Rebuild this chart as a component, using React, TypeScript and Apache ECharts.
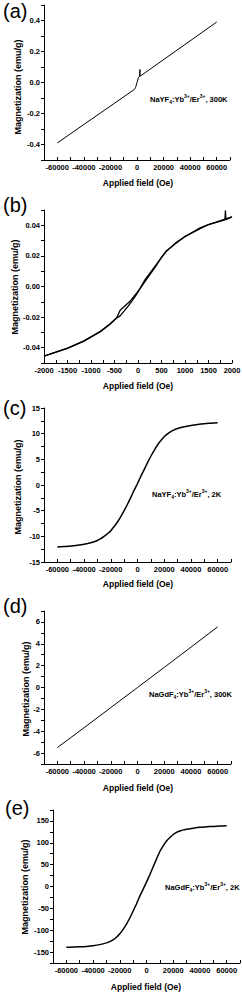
import React, { useEffect, useRef } from 'react';
import * as echarts from 'echarts';

// (a) NaYF4:Yb/Er, 300K, full field range
const fieldA = [-60000, -2000, -1000, 0, 1000, 2000, 2200, 2250, 2300, 60000];
const magA = [-0.39, -0.045, -0.031, 0.0, 0.031, 0.042, 0.084, 0.04, 0.043, 0.39];

// (b) low-field detail, ascending and descending branches
const fieldUp = [-2000, -1500, -1150, -800, -600, -450, -380, -200, -30, 150, 400, 500, 600, 800, 1000, 1320, 1500, 1850, 1860, 1870, 2000];
const magUp = [-0.0455, -0.0405, -0.0357, -0.0295, -0.0248, -0.0205, -0.0192, -0.0125, -0.0052, 0.0045, 0.0148, 0.019, 0.0228, 0.0285, 0.0325, 0.0383, 0.0405, 0.0435, 0.0496, 0.0437, 0.0455];
const fieldDown = [2000, 1500, 1000, 600, 500, 400, 200, 40, -170, -380, -450, -600, -800, -1150, -1500, -2000];
const magDown = [0.0455, 0.0405, 0.0328, 0.0232, 0.019, 0.0142, 0.0055, -0.0015, -0.0097, -0.0155, -0.0202, -0.0245, -0.0293, -0.0355, -0.0403, -0.0455];

// (c) NaYF4:Yb/Er, 2K
const fieldC = [-60000, -55000, -50000, -45000, -40000, -35000, -30000, -27500, -25000, -22500, -20000, -17500, -15000, -12500, -10000, -7500, -5000, -2500, 0, 2500, 5000, 7500, 10000, 12500, 15000, 17500, 20000, 22500, 25000, 27500, 30000, 35000, 40000, 45000, 50000, 55000, 60000];
const magC = [-12.1, -12.0, -11.9, -11.75, -11.55, -11.25, -10.8, -10.45, -10.0, -9.5, -8.9, -8.1, -7.2, -6.15, -5.0, -3.75, -2.4, -1.0, 0.3, 1.7, 3.0, 4.35, 5.6, 6.75, 7.8, 8.65, 9.4, 9.95, 10.4, 10.75, 11.0, 11.35, 11.6, 11.8, 11.95, 12.05, 12.15];

// (d) NaGdF4:Yb/Er, 300K
const fieldD = [-60000, -40000, -20000, 0, 20000, 40000, 60000];
const magD = [-5.5, -3.68, -1.84, 0, 1.84, 3.69, 5.55];

// (e) NaGdF4:Yb/Er, 2K
const fieldE = [-60000, -55000, -50000, -45000, -40000, -35000, -30000, -27500, -25000, -22500, -20000, -17500, -15000, -12500, -10000, -7500, -5000, -2500, 0, 2500, 5000, 7500, 10000, 12500, 15000, 17500, 20000, 22500, 25000, 27500, 30000, 35000, 40000, 45000, 50000, 55000, 60000];
const magE = [-139, -138.5, -138, -137, -135.5, -133, -129, -126, -122, -116, -108, -98, -86, -72, -56, -40, -22, -6, 10, 27, 45, 63, 80, 93, 104, 112, 119, 124, 127, 129.5, 131, 133.5, 135.5, 136.5, 137.5, 138.3, 139];

const panelLetters = ['(a)', '(b)', '(c)', '(d)', '(e)'];
const xTitle = 'Applied field (Oe)';
const yTitle = 'Magnetization (emu/g)';

const FONT = '"Liberation Sans", Arial, sans-serif';

const zip = (xs: number[], ys: number[]) => xs.map((x, i) => [x, ys[i]]);

const grids = [
  { left: 44, top: 5, width: 186, height: 155 },
  { left: 44, top: 210, width: 188, height: 153 },
  { left: 44, top: 408, width: 187, height: 154 },
  { left: 44, top: 611, width: 187, height: 153 },
  { left: 53, top: 810, width: 187, height: 153 },
];

// title centres (px)
const yTitlePos = [
  [18, 87],
  [15, 287],
  [18, 487],
  [26, 689],
  [25, 887],
];
const xTitlePos = [
  [138, 183],
  [138, 386],
  [138, 584],
  [138, 788],
  [146, 987],
];

const xAxisDef = (gi: number, min: number, max: number, interval: number, step: number) => ({
  type: 'value',
  gridIndex: gi,
  min,
  max,
  interval,
  axisLine: { show: true, onZero: false, lineStyle: { color: '#000', width: 1 } },
  axisTick: { show: true, inside: true, length: 3, lineStyle: { color: '#000', width: 1 } },
  splitLine: { show: false },
  axisLabel: {
    show: true,
    interval: 0,
    hideOverlap: false,
    margin: 3,
    fontSize: 7.5,
    fontWeight: 'bold',
    fontFamily: FONT,
    color: '#000',
    formatter: (v: number) => {
      const r = Math.round(v);
      return r % step === 0 ? String(r === 0 ? 0 : r) : '';
    },
  },
});

const yAxisDef = (gi: number, min: number, max: number, interval: number, fmt: (v: number) => string) => ({
  type: 'value',
  gridIndex: gi,
  min,
  max,
  interval,
  axisLine: { show: true, onZero: false, lineStyle: { color: '#000', width: 1 } },
  axisTick: { show: true, inside: false, length: 3, lineStyle: { color: '#000', width: 1 } },
  splitLine: { show: false },
  axisLabel: {
    show: true,
    interval: 0,
    hideOverlap: false,
    margin: 4,
    fontSize: 7.5,
    fontWeight: 'bold',
    fontFamily: FONT,
    color: '#000',
    formatter: fmt,
  },
});

const fmtA = (v: number) => {
  const k = Math.round(v * 10);
  return k % 2 === 0 ? (k / 10).toFixed(1) : '';
};
const fmtB = (v: number) => {
  const k = Math.round(v * 100);
  return k % 2 === 0 ? (k / 100).toFixed(2) : '';
};
const fmtC = (v: number) => {
  const k = Math.round(v * 10);
  return k % 50 === 0 ? String(k / 10) : '';
};
const fmtD = (v: number) => {
  const k = Math.round(v);
  return k % 2 === 0 ? String(k) : '';
};
const fmtE = (v: number) => {
  const k = Math.round(v);
  return k % 50 === 0 ? String(k) : '';
};

const lineSeries = (gi: number, data: number[][], width: number, smooth: number | boolean) => ({
  type: 'line',
  xAxisIndex: gi,
  yAxisIndex: gi,
  data,
  showSymbol: false,
  symbol: 'none',
  silent: true,
  smooth,
  lineStyle: { color: '#000', width },
});

const labelTops = [1, 195, 398, 596, 798];
const labelLefts = [3, 3, 3, 3, 5];

const annot = [
  { x: 150, y: 99, parts: ['NaYF', '4', ':Yb', '3+', '/Er', '3+', ', 300K'] },
  null,
  { x: 152, y: 494, parts: ['NaYF', '4', ':Yb', '3+', '/Er', '3+', ', 2K'] },
  { x: 149, y: 694, parts: ['NaGdF', '4', ':Yb', '3+', '/Er', '3+', ', 300K'] },
  { x: 165, y: 887, parts: ['NaGdF', '4', ':Yb', '3+', '/Er', '3+', ', 2K'] },
];

export default function App() {
  const ref = useRef<HTMLDivElement>(null);
  useEffect(() => {
    if (!ref.current) return;
    const chart = echarts.init(ref.current, null, { renderer: 'svg' });

    const graphics: any[] = [];
    panelLetters.forEach((t, i) => {
      graphics.push({
        type: 'text',
        left: labelLefts[i],
        top: labelTops[i],
        style: { text: t, fontSize: 20, fontFamily: FONT, fill: '#000' },
        silent: true,
      });
    });
    yTitlePos.forEach(([x, y]) => {
      graphics.push({
        type: 'text',
        x,
        y,
        rotation: Math.PI / 2,
        silent: true,
        style: {
          text: yTitle,
          fontSize: 9,
          fontWeight: 'bold',
          fontFamily: FONT,
          fill: '#000',
          align: 'center',
          verticalAlign: 'middle',
        },
      });
    });
    xTitlePos.forEach(([x, y]) => {
      graphics.push({
        type: 'text',
        x,
        y,
        silent: true,
        style: {
          text: xTitle,
          fontSize: 8.5,
          fontWeight: 'bold',
          fontFamily: FONT,
          fill: '#000',
          align: 'center',
          verticalAlign: 'middle',
        },
      });
    });
    annot.forEach((a) => {
      if (!a) return;
      const p = a.parts;
      const text = `{n|${p[0]}}{sb|${p[1]}}{n|${p[2]}}{sp|${p[3]}}{n|${p[4]}}{sp|${p[5]}}{n|${p[6]}}`;
      graphics.push({
        type: 'text',
        x: a.x,
        y: a.y,
        silent: true,
        style: {
          text,
          fill: '#000',
          verticalAlign: 'middle',
          align: 'left',
          rich: {
            n: { fontSize: 7.5, fontWeight: 'bold', fontFamily: FONT, lineHeight: 11, verticalAlign: 'middle' },
            sb: { fontSize: 5, fontWeight: 'bold', fontFamily: FONT, lineHeight: 11, verticalAlign: 'bottom' },
            sp: { fontSize: 5, fontWeight: 'bold', fontFamily: FONT, lineHeight: 11, verticalAlign: 'top' },
          },
        },
      });
    });

    const option: any = {
      animation: false,
      backgroundColor: '#fff',
      grid: grids.map((g) => ({ ...g, containLabel: false, outerBoundsMode: 'none' })),
      xAxis: [
        xAxisDef(0, -70000, 70000, 10000, 20000),
        xAxisDef(1, -2000, 2000, 250, 500),
        xAxisDef(2, -70000, 70000, 10000, 20000),
        xAxisDef(3, -70000, 70000, 10000, 20000),
        xAxisDef(4, -70000, 70000, 10000, 20000),
      ],
      yAxis: [
        yAxisDef(0, -0.5, 0.5, 0.1, fmtA),
        yAxisDef(1, -0.05, 0.05, 0.01, fmtB),
        yAxisDef(2, -15, 15, 2.5, fmtC),
        yAxisDef(3, -7, 7, 1, fmtD),
        yAxisDef(4, -175, 175, 25, fmtE),
      ],
      series: [
        lineSeries(0, zip(fieldA, magA), 1, false),
        lineSeries(1, zip(fieldUp, magUp), 1.3, false),
        lineSeries(1, zip(fieldDown, magDown), 1.3, false),
        lineSeries(2, zip(fieldC, magC), 1.5, 0.2),
        lineSeries(3, zip(fieldD, magD), 1, false),
        lineSeries(4, zip(fieldE, magE), 1.5, 0.2),
      ],
      graphic: graphics,
    };
    chart.setOption(option);
    return () => chart.dispose();
  }, []);
  return (
    <div
      ref={ref}
      style={{ position: 'absolute', left: 0, top: 0, width: 242, height: 993, background: '#fff' }}
    />
  );
}
